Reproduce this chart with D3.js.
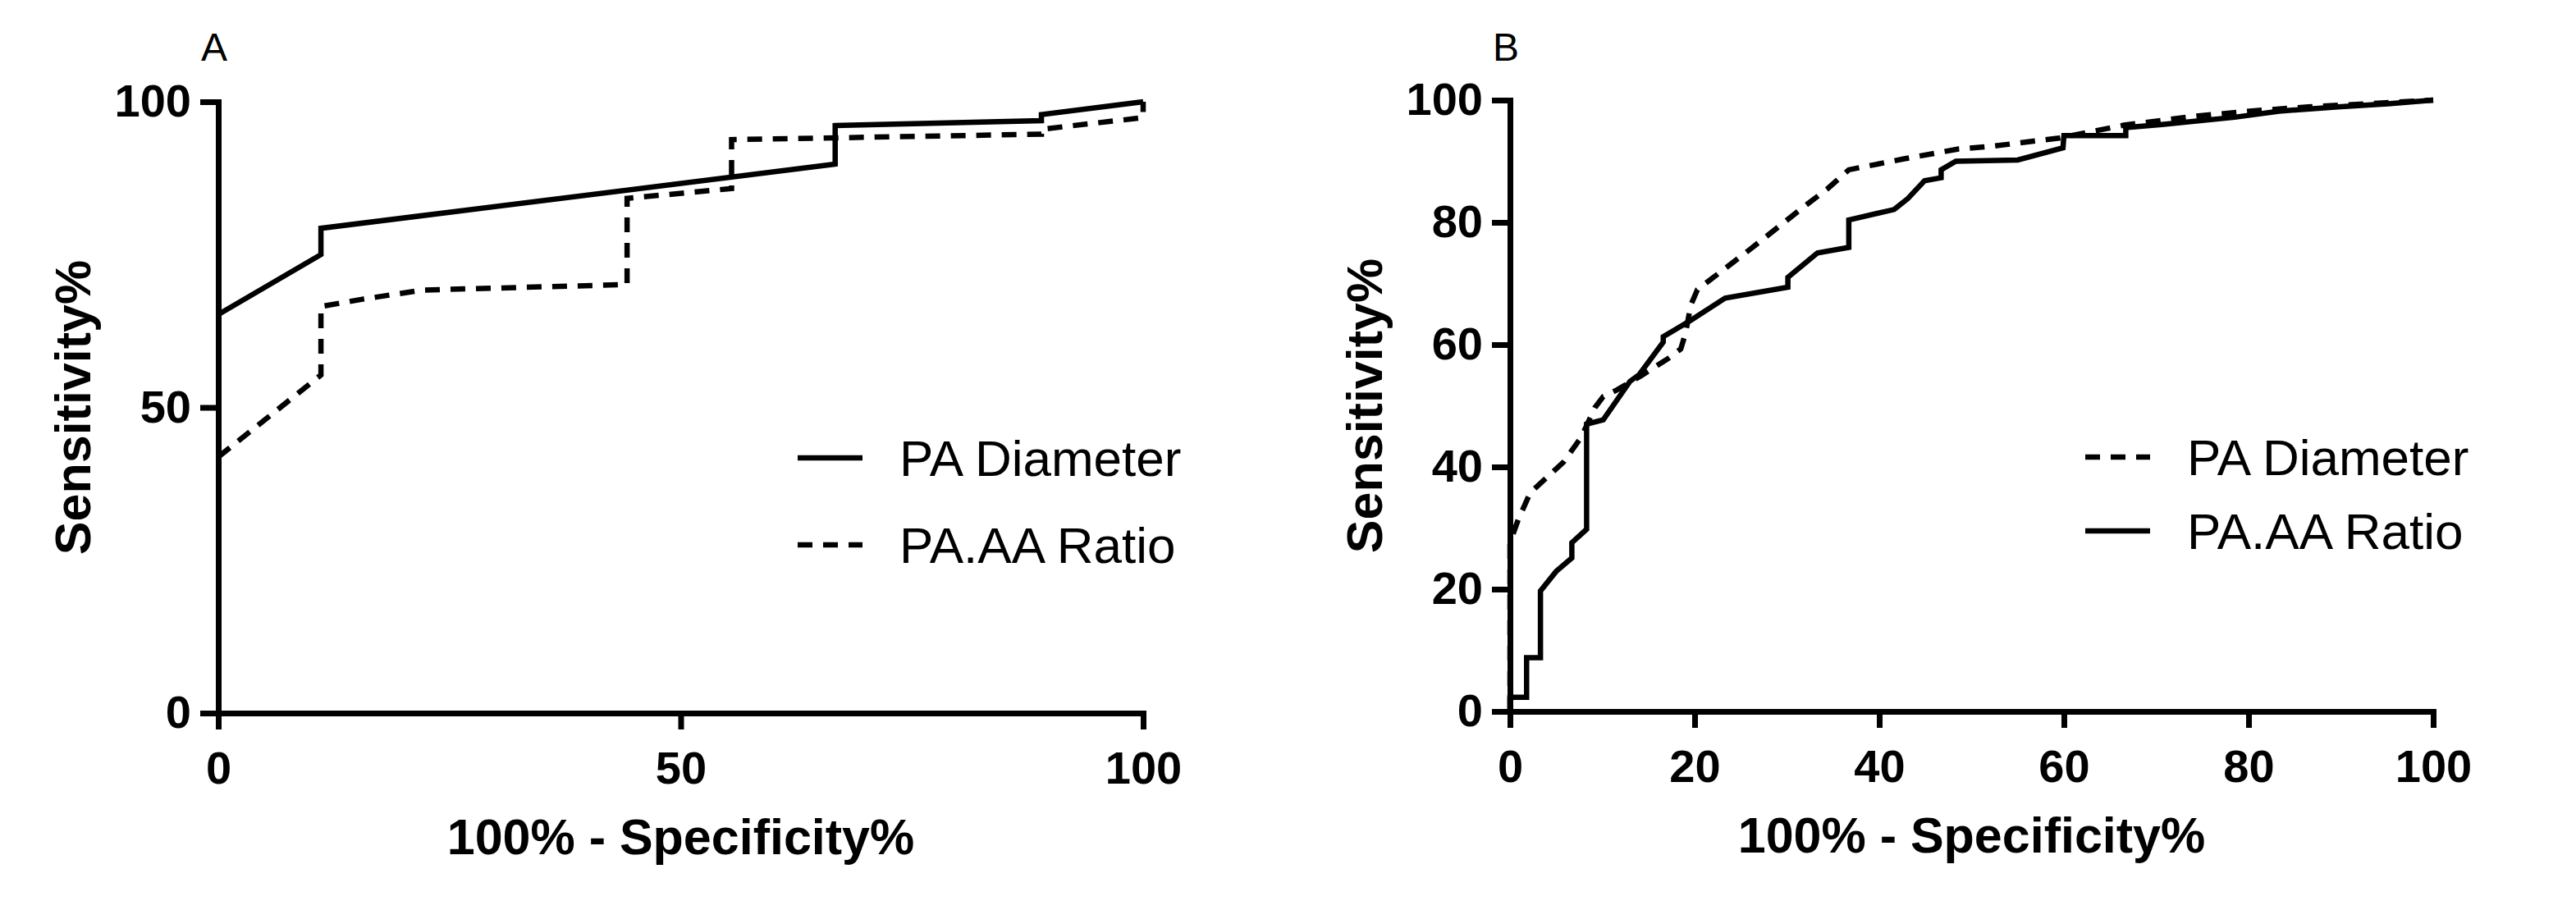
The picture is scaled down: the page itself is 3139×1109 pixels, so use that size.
<!DOCTYPE html>
<html>
<head>
<meta charset="utf-8">
<script src="https://cdnjs.cloudflare.com/ajax/libs/d3/7.8.5/d3.min.js"></script>
<style>
  body { margin: 0; background: #fff; }
  svg { display: block; }
</style>
</head>
<body>
<div id="chart"></div>
<script>
// panel A : small cohort, 9 negatives
var aDiameterX = [0, 11.1, 11.1, 66.7, 66.7, 89.0, 89.0, 100];
var aDiameterY = [65.2, 75.0, 79.3, 89.8, 96.1, 96.9, 97.9, 100];
var aRatioX = [0, 11.1, 11.1, 15.6, 22.1, 44.2, 44.2, 55.5, 55.5, 89.0, 89.0, 100, 100];
var aRatioY = [41.9, 55.3, 66.5, 67.7, 69.2, 70.1, 84.2, 85.8, 93.8, 94.7, 95.5, 97.4, 100];
var aTicks = [0, 50, 100];

// panel B
var bDiameterX = [0, 0, 0.9, 2.2, 5.8, 7.7, 9.2, 10.1, 11.6, 14.2, 17.2, 18.5, 19.0, 19.6, 20.3, 26.1, 31.7, 34.4, 36.7, 42.7, 48.6, 52.5, 59.5, 66.5, 73.8, 80.1, 86.5, 92.8, 100];
var bDiameterY = [0, 27.6, 31.4, 35.8, 40.8, 44.8, 49.7, 51.5, 52.6, 54.9, 57.8, 59.3, 61.8, 66.5, 69.0, 75.7, 82.4, 85.5, 88.6, 90.4, 92.0, 92.5, 93.8, 95.9, 97.3, 98.2, 98.9, 99.4, 100];
var bRatioX = [0, 0, 1.8, 1.8, 3.3, 3.3, 5.0, 6.7, 6.7, 8.3, 8.3, 10.1, 13.0, 14.0, 16.6, 16.6, 19.6, 23.3, 30.1, 30.1, 33.3, 36.7, 36.7, 41.6, 43.1, 44.9, 46.7, 46.7, 48.3, 55.0, 59.9, 60.0, 66.7, 66.7, 70.6, 78.5, 83.3, 89.7, 95.1, 100];
var bRatioY = [0, 2.3, 2.3, 8.8, 8.8, 19.7, 22.9, 25.1, 27.6, 29.8, 47.0, 47.7, 54.0, 55.1, 60.4, 61.3, 64.0, 67.6, 69.4, 71.0, 75.0, 75.9, 80.4, 82.1, 83.9, 86.8, 87.3, 88.6, 90.0, 90.2, 92.2, 94.2, 94.2, 95.5, 96.0, 97.2, 98.2, 98.9, 99.4, 100];
var bTicks = [0, 20, 40, 60, 80, 100];

var xLabel = "100% - Specificity%";
var yLabel = "Sensitivity%";
var dash = "18,13";
var font = "Arial, 'Liberation Sans', sans-serif";

var svg = d3.select("#chart")
  .append("svg")
  .attr("width", 3139)
  .attr("height", 1109);

svg.append("rect").attr("width", 3139).attr("height", 1109).attr("fill", "#fff");

function zip(xs, ys) {
  return xs.map(function(d, i) { return [d, ys[i]]; });
}

function drawPanel(p) {
  var x = d3.scaleLinear().domain([0, 100]).range([p.left, p.right]);
  var y = d3.scaleLinear().domain([0, 100]).range([p.bottom, p.top]);

  var line = d3.line()
    .x(function(d) { return x(d[0]); })
    .y(function(d) { return y(d[1]); });

  // curves
  p.series.forEach(function(s) {
    svg.append("path")
      .datum(zip(s.x, s.y))
      .attr("d", line)
      .attr("fill", "none")
      .attr("stroke", "#000")
      .attr("stroke-width", 6.5)
      .attr("stroke-linejoin", "miter")
      .attr("stroke-dasharray", s.dashed ? dash : null);
  });

  var gx = svg.append("g")
    .attr("transform", "translate(0," + p.bottom + ")")
    .call(d3.axisBottom(x).tickValues(p.ticks.x).tickSize(20).tickSizeOuter(0).tickPadding(26));
  var gy = svg.append("g")
    .attr("transform", "translate(" + p.left + ",0)")
    .call(d3.axisLeft(y).tickValues(p.ticks.y).tickSize(22).tickSizeOuter(0).tickPadding(11));

  [gx, gy].forEach(function(g) {
    g.attr("font-size", 56).attr("font-family", font).attr("font-weight", "bold");
    g.selectAll("line").attr("stroke-width", 7);
    g.select(".domain").attr("stroke-width", 7).attr("stroke-linecap", "square");
  });

  svg.append("text")
    .attr("x", (p.left + p.right) / 2)
    .attr("y", p.bottom + 172)
    .attr("text-anchor", "middle")
    .attr("font-family", font)
    .attr("font-weight", "bold")
    .attr("font-size", 61)
    .text(xLabel);

  svg.append("text")
    .attr("transform", "translate(" + (p.left - 156) + "," + ((p.top + p.bottom) / 2) + ") rotate(-90)")
    .attr("text-anchor", "middle")
    .attr("font-family", font)
    .attr("font-weight", "bold")
    .attr("font-size", 61)
    .text(yLabel);

  svg.append("text")
    .attr("x", p.left - 21)
    .attr("y", 74)
    .attr("font-family", font)
    .attr("font-size", 48)
    .text(p.letter);

  // legend
  p.series.forEach(function(s, i) {
    var ly = p.legendY[i];
    svg.append("line")
      .attr("x1", p.legendX).attr("x2", p.legendX + 79)
      .attr("y1", ly).attr("y2", ly)
      .attr("stroke", "#000")
      .attr("stroke-width", 6.5)
      .attr("stroke-dasharray", s.dashed ? dash : null);
    svg.append("text")
      .attr("x", p.legendX + 124)
      .attr("y", ly + 22)
      .attr("font-family", font)
      .attr("font-size", 62)
      .text(s.name);
  });
}

drawPanel({
  letter: "A", left: 266, right: 1393, top: 124, bottom: 869,
  ticks: {x: aTicks, y: aTicks},
  legendX: 972, legendY: [558, 664],
  series: [
    {name: "PA Diameter", x: aDiameterX, y: aDiameterY, dashed: false},
    {name: "PA.AA Ratio", x: aRatioX, y: aRatioY, dashed: true}
  ]
});

drawPanel({
  letter: "B", left: 1840, right: 2965, top: 122, bottom: 867,
  ticks: {x: bTicks, y: bTicks},
  legendX: 2541, legendY: [557, 647],
  series: [
    {name: "PA Diameter", x: bDiameterX, y: bDiameterY, dashed: true},
    {name: "PA.AA Ratio", x: bRatioX, y: bRatioY, dashed: false}
  ]
});
</script>
</body>
</html>
